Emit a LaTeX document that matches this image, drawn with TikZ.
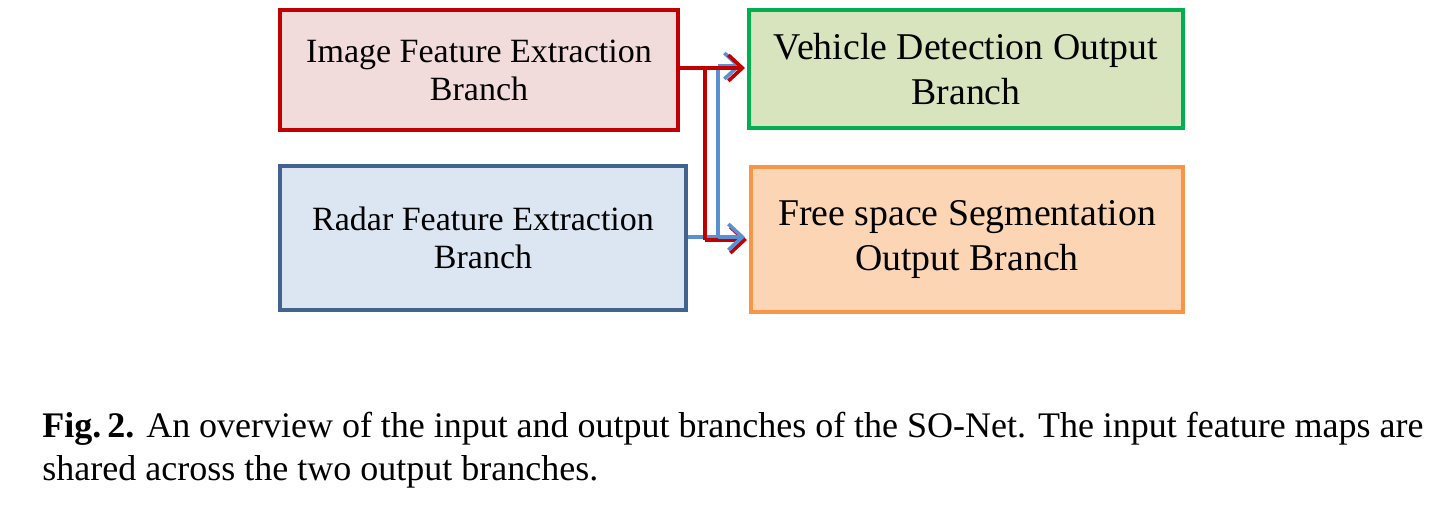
\documentclass[tikz,border=0pt]{standalone}
\usepackage{fontspec}
\setmainfont{Liberation Serif}
\usetikzlibrary{arrows.meta}
\definecolor{redln}{HTML}{C00000}
\definecolor{redfill}{HTML}{F2DCDB}
\definecolor{blueln}{HTML}{41648F}
\definecolor{bluefill}{HTML}{DCE6F2}
\definecolor{greenln}{HTML}{00B050}
\definecolor{greenfill}{HTML}{D7E4BD}
\definecolor{orangeln}{HTML}{F79646}
\definecolor{orangefill}{HTML}{FCD5B5}
\definecolor{conblue}{HTML}{5B8FD3}
\tikzset{
  box/.style={draw, rectangle, line width=2pt, inner sep=0pt, align=center},
  inbox/.style={box, font=\fontsize{17}{19}\selectfont},
  outbox/.style={box, font=\fontsize{18.9}{22.5}\selectfont},
  conn/.style={line width=2.4pt},
  tip/.style={-{Straight Barb[length=7pt,width=13pt,line width=1.8pt]}},
}
\begin{document}
\begin{tikzpicture}[x=0.5pt,y=-0.5pt]
\useasboundingbox (0,0) rectangle (1456,510);
\node[inbox, draw=redln, fill=redfill, minimum width=199pt, minimum height=60pt] (img) at (479,70) {Image Feature Extraction\\Branch};
\node[inbox, draw=blueln, fill=bluefill, minimum width=203pt, minimum height=72pt] (rad) at (483,238) {Radar Feature Extraction\\Branch};
\node[outbox, draw=greenln, fill=greenfill, minimum width=217pt, minimum height=59pt] (veh) at (966,69) {Vehicle Detection Output\\Branch};
\node[outbox, draw=orangeln, fill=orangefill, minimum width=216pt, minimum height=72.5pt] (fre) at (967,239.5) {Free space Segmentation\\Output Branch};
\coordinate (rj) at (705,68);
\coordinate (bj) at (718,237);
% blue path
\draw[conn, conblue] (rad.east |- bj) -- (bj) -- (bj |- 0,68) ;
\draw[conn, conblue, tip] (bj |- 0,66) -- ([xshift=-3pt,yshift=1.5pt]veh.west);
% red path
\draw[conn, redln] (img.east |- rj) -- (rj) -- (rj |- 0,240);
\draw[conn, redln, tip] (rj) -- ([xshift=-1pt,yshift=0.5pt]veh.west);
\draw[conn, redln, tip] (rj |- 0,240) -- ([xshift=-1pt,yshift=-0.25pt]fre.west);
\draw[conn, conblue, tip] (bj) -- ([xshift=-2pt,yshift=1.25pt]fre.west);
\node[anchor=base west, text width=690.5pt, align=justify, inner sep=0pt, font=\fontsize{18}{21.5}\selectfont] (cap) at (42,437)
{\textbf{Fig.\,2.} An overview of the input and output branches of the SO-Net. The input feature maps are\linebreak shared across the two output branches.};
\end{tikzpicture}
\end{document}
